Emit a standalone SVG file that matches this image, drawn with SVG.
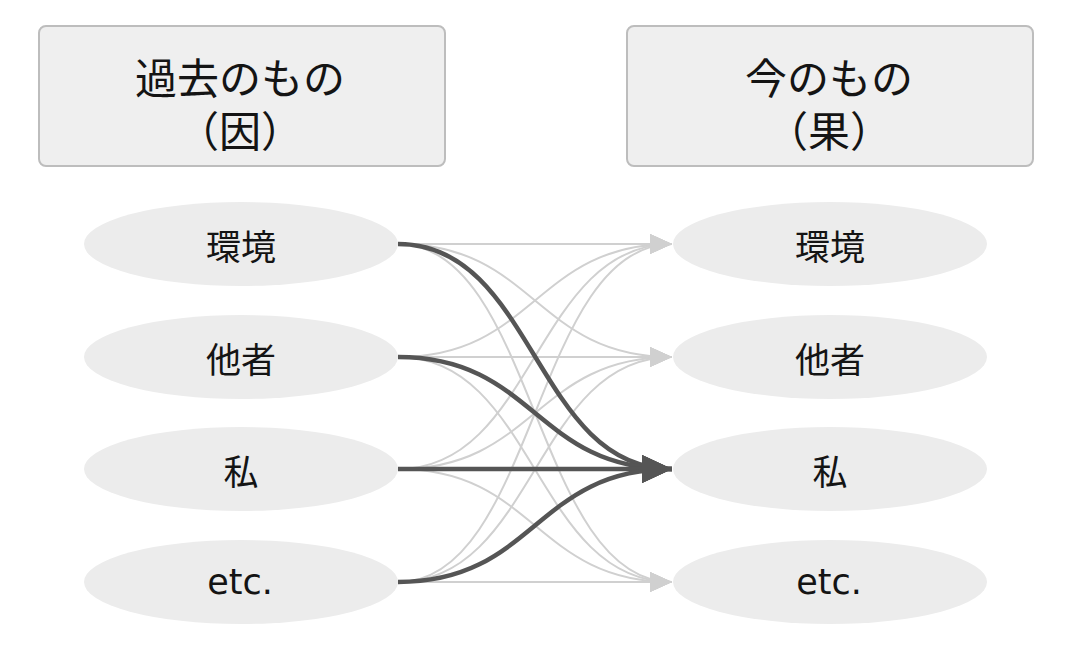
<svg xmlns="http://www.w3.org/2000/svg" width="1074" height="654" viewBox="0 0 1074 654">
<style>
.box{fill:#efefef;stroke:#bdbdbd;stroke-width:2}
.ell{fill:#ececec}
.t{font-family:"Noto Sans CJK JP","DejaVu Sans",sans-serif;font-weight:400;fill:#141414;text-anchor:middle;dominant-baseline:central}
.e{font-family:"DejaVu Sans",sans-serif}
.h{font-size:42px}
.n{font-size:35px}
.lt{fill:none;stroke:#d0d0d0;stroke-width:2}
.dk{fill:none;stroke:#555;stroke-width:4.5}
</style>
<defs>
<marker id="al" markerUnits="userSpaceOnUse" markerWidth="22" markerHeight="20" refX="22" refY="10" orient="auto" viewBox="0 0 22 20"><path d="M0,0 L22,10 L0,20 Z" fill="#d0d0d0"/></marker>
<marker id="ad" markerUnits="userSpaceOnUse" markerWidth="30" markerHeight="30" refX="30" refY="15" orient="auto" viewBox="0 0 30 30"><path d="M0,1 L30,15 L0,29 Z" fill="#555"/></marker>
</defs>
<rect width="1074" height="654" fill="#fff"/>
<g id="hdr-past"><rect class="box" x="39" y="26" width="406" height="140" rx="7"/><text class="t h" x="240" y="75">過去のもの</text><text class="t h" x="240" y="128">（因）</text></g>
<g id="hdr-now"><rect class="box" x="627" y="26" width="406" height="140" rx="7"/><text class="t h" x="829" y="75">今のもの</text><text class="t h" x="829" y="128">（果）</text></g>
<g id="connectors">
<path class="lt" d="M398,244 C535,244 535,244 672,244" marker-end="url(#al)"/>
<path class="lt" d="M398,244 C535,244 535,357 672,357" marker-end="url(#al)"/>
<path class="lt" d="M398,244 C535,244 535,582 672,582" marker-end="url(#al)"/>
<path class="lt" d="M398,357 C535,357 535,244 672,244" marker-end="url(#al)"/>
<path class="lt" d="M398,357 C535,357 535,357 672,357" marker-end="url(#al)"/>
<path class="lt" d="M398,357 C535,357 535,582 672,582" marker-end="url(#al)"/>
<path class="lt" d="M398,469 C535,469 535,244 672,244" marker-end="url(#al)"/>
<path class="lt" d="M398,469 C535,469 535,357 672,357" marker-end="url(#al)"/>
<path class="lt" d="M398,469 C535,469 535,582 672,582" marker-end="url(#al)"/>
<path class="lt" d="M398,582 C535,582 535,244 672,244" marker-end="url(#al)"/>
<path class="lt" d="M398,582 C535,582 535,357 672,357" marker-end="url(#al)"/>
<path class="lt" d="M398,582 C535,582 535,582 672,582" marker-end="url(#al)"/>
<path class="dk" d="M398,244 C535,244 535,469 672,469" marker-end="url(#ad)"/>
<path class="dk" d="M398,357 C535,357 535,469 672,469" marker-end="url(#ad)"/>
<path class="dk" d="M398,469 C535,469 535,469 672,469" marker-end="url(#ad)"/>
<path class="dk" d="M398,582 C535,582 535,469 672,469" marker-end="url(#ad)"/>
</g>
<g id="l-env"><ellipse class="ell" cx="241" cy="244" rx="157" ry="42"/><text class="t n" x="241" y="244">環境</text></g>
<g id="l-oth"><ellipse class="ell" cx="241" cy="357" rx="157" ry="42"/><text class="t n" x="241" y="357">他者</text></g>
<g id="l-me"><ellipse class="ell" cx="241" cy="469" rx="157" ry="42"/><text class="t n" x="241" y="469">私</text></g>
<g id="l-etc"><ellipse class="ell" cx="241" cy="582" rx="157" ry="42"/><text class="t e n" x="240" y="582">etc.</text></g>
<g id="r-env"><ellipse class="ell" cx="830" cy="244" rx="157" ry="42"/><text class="t n" x="830" y="244">環境</text></g>
<g id="r-oth"><ellipse class="ell" cx="830" cy="357" rx="157" ry="42"/><text class="t n" x="830" y="357">他者</text></g>
<g id="r-me"><ellipse class="ell" cx="830" cy="469" rx="157" ry="42"/><text class="t n" x="830" y="469">私</text></g>
<g id="r-etc"><ellipse class="ell" cx="830" cy="582" rx="157" ry="42"/><text class="t e n" x="829" y="582">etc.</text></g>
</svg>
